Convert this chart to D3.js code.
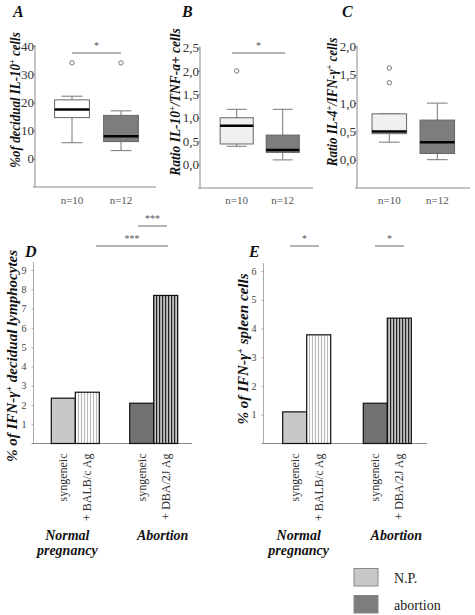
<!DOCTYPE html>
<html><head><meta charset="utf-8">
<script src="https://cdn.jsdelivr.net/npm/d3@7"></script>
<style>
body{margin:0;background:#fff;}
svg text{font-family:"Liberation Serif","Times New Roman","DejaVu Serif",serif !important;}
</style></head>
<body><svg id="c" width="475" height="615"></svg>
<script>
// ---------- data ----------
const boxGroups = ["n=10", "n=12"];
// [whiskerLow, Q1, median, Q3, whiskerHigh]
const boxA = [[5.7, 14.6, 17.5, 20.9, 22.2], [2.9, 6.1, 8.0, 15.4, 17.0]];
const outA = [[34], [34]];
const boxB = [[0.39, 0.44, 0.83, 1.0, 1.18], [0.10, 0.26, 0.31, 0.63, 1.18]];
const outB = [[2.0], []];
const boxC = [[0.31, 0.46, 0.50, 0.81, 0.81], [0.0, 0.11, 0.31, 0.70, 1.0]];
const outC = [[1.62, 1.36], []];
const ticksA = [0, 10, 20, 30, 40];
const ticksB = [0, 0.5, 1, 1.5, 2, 2.5];
const ticksC = [0, 0.5, 1, 1.5, 2];

const barGroups = ["Normal pregnancy", "Abortion"];
const barSub = ["syngeneic", "antigen"];
const barLabels = [["syngeneic", "+ BALB/c Ag"], ["syngeneic", "+ DBA/2J Ag"]];
const valuesD = [[2.35, 2.66], [2.09, 7.68]];
const valuesE = [[1.1, 3.78], [1.4, 4.36]];
const ticksD = [1, 2, 3, 4, 5, 6, 7, 8, 9];
const ticksE = [1, 2, 3, 4, 5, 6];
const legendItems = ["N.P.", "abortion"];

// ---------- drawing ----------
const FONT = "Liberation Serif, Times New Roman, serif";
const svg = d3.select("#c").attr("font-family", FONT);
const defs = svg.append("defs");
const p1 = defs.append("pattern").attr("id", "stripeLight").attr("patternUnits", "userSpaceOnUse")
  .attr("width", 3).attr("height", 4);
p1.append("rect").attr("width", 3).attr("height", 4).attr("fill", "#fafafa");
p1.append("rect").attr("x", 0).attr("width", 1).attr("height", 4).attr("fill", "#b8b8b8");
const p2 = defs.append("pattern").attr("id", "stripeDark").attr("patternUnits", "userSpaceOnUse")
  .attr("width", 3).attr("height", 4);
p2.append("rect").attr("width", 3).attr("height", 4).attr("fill", "#c4c4c4");
p2.append("rect").attr("x", 0).attr("width", 1.2).attr("height", 4).attr("fill", "#222");

const axisCol = "#8a8a8a";
const textCol = "#333";
const comma = v => d3.format(".1f")(v).replace(".", ",");

function txt(sel) { return sel.append("text").attr("font-family", FONT); }

function panelLabel(x, y, t) {
  txt(svg).attr("x", x).attr("y", y).attr("font-size", 16)
    .attr("font-weight", "bold").attr("font-style", "italic").attr("fill", "#111").text(t);
}
// rotated axis title, stretched/compressed along its direction to a target length
function yTitle(x, cy, len, parts) {
  const t = txt(svg).attr("text-anchor", "middle").attr("font-size", 14).attr("font-weight", "bold")
    .attr("font-style", "italic").attr("fill", "#111");
  parts.forEach(p => {
    const s = t.append("tspan").text(p[0]);
    if (p[1]) s.attr("font-size", 9).attr("dy", -5);
    else if (p[2]) s.attr("dy", 5);
  });
  const w = t.node().getBBox().width;
  const k = len / w;
  t.attr("transform", `translate(${x},${cy}) rotate(-90) scale(${k},1)`);
}
function sig(x1, x2, y, label) {
  svg.append("line").attr("x1", x1).attr("x2", x2).attr("y1", y).attr("y2", y)
    .attr("stroke", "#666").attr("stroke-width", 1);
  txt(svg).attr("x", (x1 + x2) / 2).attr("y", y - 4).attr("text-anchor", "middle")
    .attr("font-size", 10).attr("fill", "#555").text(label);
}

function boxPanel(cfg) {
  const y = d3.scaleLinear().domain(cfg.domain).range([cfg.bottom, cfg.top]);
  const x = d3.scaleBand().domain(boxGroups).range(cfg.xr).paddingInner(cfg.pad).paddingOuter(cfg.pad / 2);
  const g = svg.append("g");
  g.append("line").attr("x1", cfg.ax).attr("x2", cfg.ax).attr("y1", cfg.top - 1).attr("y2", cfg.bottom)
    .attr("stroke", axisCol);
  g.append("line").attr("x1", cfg.ax - 2).attr("x2", cfg.xend).attr("y1", cfg.bottom).attr("y2", cfg.bottom)
    .attr("stroke", axisCol);
  const ax = d3.axisLeft(y).tickValues(cfg.ticks).tickSize(2).tickSizeOuter(0).tickFormat(cfg.fmt);
  const ag = g.append("g").attr("transform", `translate(${cfg.ax},0)`).call(ax).attr("font-family", FONT);
  ag.select(".domain").remove();
  ag.selectAll(".tick line").attr("stroke", axisCol);
  ag.selectAll(".tick text").attr("font-size", 13).attr("fill", textCol)
    .attr("font-family", FONT).attr("x", -1);
  boxGroups.forEach(k => {
    txt(g).attr("x", x(k) + x.bandwidth() / 2).attr("y", 204).attr("text-anchor", "middle")
      .attr("font-size", 11).attr("fill", "#555").text(k);
  });
  cfg.data.forEach((d, i) => {
    const k = boxGroups[i];
    const x0 = x(k), w = x.bandwidth(), cx = x0 + w / 2, cw = w * 0.6;
    const fill = cfg.fills[i];
    g.append("line").attr("x1", cx).attr("x2", cx).attr("y1", y(d[0])).attr("y2", y(d[1])).attr("stroke", "#777");
    g.append("line").attr("x1", cx).attr("x2", cx).attr("y1", y(d[3])).attr("y2", y(d[4])).attr("stroke", "#777");
    g.append("line").attr("x1", cx - cw / 2).attr("x2", cx + cw / 2).attr("y1", y(d[0])).attr("y2", y(d[0])).attr("stroke", "#777");
    g.append("line").attr("x1", cx - cw / 2).attr("x2", cx + cw / 2).attr("y1", y(d[4])).attr("y2", y(d[4])).attr("stroke", "#777");
    g.append("rect").attr("x", x0).attr("width", w).attr("y", y(d[3])).attr("height", y(d[1]) - y(d[3]))
      .attr("fill", fill).attr("stroke", "#666");
    g.append("line").attr("x1", x0).attr("x2", x0 + w).attr("y1", y(d[2])).attr("y2", y(d[2]))
      .attr("stroke", "#000").attr("stroke-width", 2.5);
    cfg.out[i].forEach(o => {
      g.append("circle").attr("cx", cx).attr("cy", y(o)).attr("r", 2.2)
        .attr("fill", "none").attr("stroke", "#666").attr("stroke-width", 0.9);
    });
  });
}

panelLabel(13, 17, "A");
yTitle(20, 100, 136, [["%of decidual IL-10"], ["+", true], [" cells", false, true]]);
boxPanel({domain: [-10, 40], bottom: 187, top: 46, ax: 35, xend: 156,
  xr: [47.5, 145.5], pad: 0.29, data: boxA, out: outA, ticks: ticksA, fmt: d3.format("d"),
  fills: ["#ffffff", "#7d7d7d"]});
sig(72, 121, 53, "*");

panelLabel(182, 17, "B");
yTitle(180, 102, 149, [["Ratio IL-10"], ["+", true], ["/TNF-a+ cells", false, true]]);
boxPanel({domain: [-0.5, 2.5], bottom: 188, top: 47.5, ax: 200, xend: 313,
  xr: [213.7, 305.7], pad: 0.28, data: boxB, out: outB, ticks: ticksB, fmt: comma,
  fills: ["#f0f0f0", "#7d7d7d"]});
sig(232, 285, 53, "*");

panelLabel(342, 17, "C");
yTitle(337, 102, 130, [["Ratio IL-4"], ["+", true], ["/IFN-γ", false, true], ["+", true], [" cells", false, true]]);
boxPanel({domain: [-0.5, 2.0], bottom: 188, top: 46.5, ax: 357, xend: 470,
  xr: [365.3, 461.3], pad: 0.28, data: boxC, out: outC, ticks: ticksC, fmt: comma,
  fills: ["#f0f0f0", "#7d7d7d"]});

// ---------- bar panels ----------
function barPanel(cfg) {
  const y = d3.scaleLinear().domain(cfg.domain).range([cfg.bottom, cfg.top]);
  const xg = d3.scaleBand().domain(barGroups).range(cfg.xr).paddingInner(cfg.pad).paddingOuter(cfg.pad / 2);
  const xs = d3.scaleBand().domain(barSub).range([0, xg.bandwidth()]);
  const g = svg.append("g");
  g.append("line").attr("x1", cfg.ax).attr("x2", cfg.ax).attr("y1", cfg.top - 8).attr("y2", cfg.bottom)
    .attr("stroke", "#aaa");
  g.append("line").attr("x1", cfg.ax - 2).attr("x2", cfg.xend).attr("y1", cfg.bottom).attr("y2", cfg.bottom)
    .attr("stroke", axisCol);
  const ax = d3.axisLeft(y).tickValues(cfg.ticks).tickSize(2).tickSizeOuter(0).tickFormat(d3.format("d"));
  const ag = g.append("g").attr("transform", `translate(${cfg.ax},0)`).call(ax).attr("font-family", FONT);
  ag.select(".domain").remove();
  ag.selectAll(".tick line").attr("stroke", "#aaa");
  ag.selectAll(".tick text").attr("font-size", 10).attr("fill", "#444")
    .attr("font-family", FONT).attr("x", -7);
  const fills = [["#c8c8c8", "url(#stripeLight)"], ["#717171", "url(#stripeDark)"]];
  cfg.values.forEach((vals, gi) => {
    vals.forEach((v, si) => {
      const bx = xg(barGroups[gi]) + xs(barSub[si]);
      g.append("rect").attr("x", bx).attr("width", xs.bandwidth()).attr("y", y(v))
        .attr("height", cfg.bottom - y(v)).attr("fill", fills[gi][si])
        .attr("stroke", "#111").attr("stroke-width", 1.2);
      txt(g).attr("transform", `translate(${bx + xs.bandwidth() / 2 + 4},${cfg.bottom + 10}) rotate(-90)`)
        .attr("text-anchor", "end").attr("font-size", 12).attr("fill", textCol)
        .text(barLabels[gi][si]);
    });
    const gx = xg(barGroups[gi]) + xg.bandwidth() / 2;
    const words = gi === 0 ? ["Normal", "pregnancy"] : ["Abortion"];
    words.forEach((w, wi) => {
      txt(g).attr("x", gx + (gi === 0 ? -8 : 9)).attr("y", 540 + wi * 15).attr("text-anchor", "middle")
        .attr("font-size", 14).attr("font-weight", "bold").attr("font-style", "italic").attr("fill", "#111").text(w);
    });
  });
}

panelLabel(25, 257, "D");
yTitle(17, 356, 213, [["% of IFN-γ"], ["+", true], [" decidual lymphocytes", false, true]]);
barPanel({domain: [0, 9], bottom: 443.5, top: 270, ax: 33.5, xend: 192, xr: [36.1, 192.9], pad: 0.388,
  values: valuesD, ticks: ticksD});
sig(138, 167, 226, "***");
sig(96, 168, 246, "***");

panelLabel(249, 257, "E");
yTitle(248, 349, 152, [["% of IFN-γ"], ["+", true], [" spleen cells", false, true]]);
barPanel({domain: [0, 6], bottom: 443.5, top: 271, ax: 263.5, xend: 427, xr: [266.4, 427.6], pad: 0.404,
  values: valuesE, ticks: ticksE});
sig(290, 319, 246, "*");
sig(375, 404, 246, "*");

// ---------- legend ----------
const legFills = ["#c8c8c8", "#7d7d7d"];
legendItems.forEach((t, i) => {
  svg.append("rect").attr("x", 354).attr("y", 568.5 + i * 27).attr("width", 24).attr("height", 17.5)
    .attr("fill", legFills[i]).attr("stroke", "#888");
  txt(svg).attr("x", 394).attr("y", 583 + i * 27).attr("font-size", 14).attr("fill", "#222").text(t);
});
</script></body></html>
